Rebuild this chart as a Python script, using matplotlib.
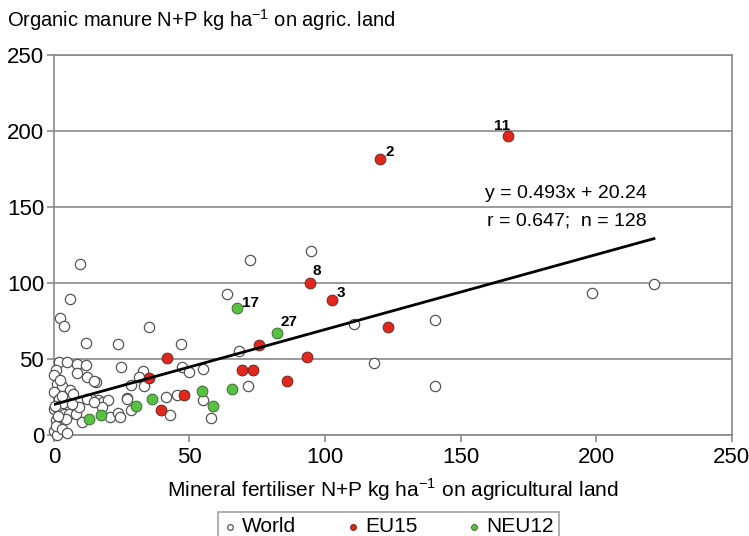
import matplotlib.pyplot as plt
import numpy as np

plt.rcParams['font.family'] = ['Liberation Sans', 'DejaVu Sans']

# World countries (white circles)
world_x = [9.8, 72.2, 94.9, 64.0, 6.1, 2.3, 3.6, 35.0, 11.8, 23.6, 47.0, 110.5, 118.0,
           140.6, 140.5, 198.5, 221.3, 68.1, 55.0, 71.7, 55.0, 58.0,
           24.8, 32.7, 31.4, 33.1, 28.6, 15.7, 47.4, 49.7, 27.1, 16.3, 18.2, 20.0,
           13.6, 17.6, 20.6, 23.7, 24.3, 28.6, 41.5, 45.5, 42.7, 26.8,
           1.8, 4.7, 8.6, 11.7, 0.6, 8.6, 12.3, 14.7, 0.2, 1.2, 3.1, 0.1, 1.8,
           0.1, 1.8, 3.7, 5.5, 8.0, 9.2, 12.3, 0.6, 4.3, 0.1, 1.2, 0.6, 3.1,
           10.4, 14.7, 2.2, 5.9, 7.1, 3.4, 1.6, 6.5, 2.8, 0.4, 4.7]
world_y = [112.5, 115.0, 121.0, 92.6, 89.3, 77.4, 71.9, 71.3, 61.0, 60.3, 59.9, 73.0, 47.8,
           75.7, 32.2, 93.6, 99.3, 55.7, 43.6, 32.2, 23.5, 11.4,
           44.9, 42.3, 38.4, 32.2, 32.9, 35.0, 44.7, 41.9, 24.8, 23.0, 21.9, 23.0,
           23.9, 18.6, 12.0, 14.3, 12.0, 16.9, 25.2, 26.3, 13.2, 24.1,
           48.0, 48.5, 46.9, 45.9, 42.6, 41.0, 38.2, 36.0, 39.3, 33.8, 32.7, 28.3, 23.9,
           17.3, 16.2, 14.0, 14.0, 14.0, 18.4, 23.9, 9.7, 10.7, 3.1, 0.3, 6.4, 4.1,
           8.6, 21.7, 36.5, 30.0, 27.0, 21.0, 12.5, 20.5, 26.0, 19.5, 1.5]

# EU15 (red)
eu_x = [167.5, 120.4, 94.3, 102.4, 123.3, 93.2, 75.8, 73.6, 69.2, 85.8, 41.6, 35.0, 48.0, 39.5]
eu_y = [196.7, 182.0, 100.0, 88.8, 71.0, 51.3, 59.2, 42.8, 42.8, 35.5, 50.7, 37.5, 26.3, 16.9]

# NEU12 (green)
neu_x = [67.4, 82.1, 12.9, 17.4, 30.2, 36.2, 54.7, 58.5, 65.7]
neu_y = [83.5, 67.0, 10.7, 13.4, 19.3, 24.1, 29.4, 19.3, 30.5]

# labelled countries: (label, x, y, dx, dy, ha)
labels = [("11", 167.5, 196.7, -4, 2, "center"),
          ("2", 120.4, 182.0, 4, 0, "left"),
          ("8", 94.3, 100.0, 2, 4, "left"),
          ("3", 102.4, 88.8, 4, 0, "left"),
          ("17", 67.4, 83.5, 4, -1, "left"),
          ("27", 82.1, 67.0, 3, 3, "left")]

slope = 0.493
intercept = 20.24

fig = plt.figure(figsize=(7.49, 5.36), dpi=100)
ax = fig.add_axes([0.072, 0.188, 0.905, 0.709])

gray = "#8a8a8a"
ax.set_xlim(0, 250)
ax.set_ylim(0, 250)
ax.set_xticks([0, 50, 100, 150, 200, 250])
ax.set_yticks([0, 50, 100, 150, 200, 250])
ax.yaxis.grid(True, color=gray, lw=1.2)
ax.set_axisbelow(True)
for s in ax.spines.values():
    s.set_color(gray)
    s.set_linewidth(1.2)
ax.tick_params(colors=gray, labelcolor="black", labelsize=16, length=5, width=1.2)
ax.tick_params(axis="y", pad=2)

ax.scatter(world_x, world_y, s=55, facecolor="white", edgecolor="#555555",
           linewidth=0.9, zorder=3, label="World", clip_on=False)
ax.scatter(eu_x, eu_y, s=60, facecolor="#e3261e", edgecolor="#6a2a20",
           linewidth=0.7, zorder=4, label="EU15", clip_on=False)
ax.scatter(neu_x, neu_y, s=60, facecolor="#58c043", edgecolor="#3d6b33",
           linewidth=0.7, zorder=4, label="NEU12", clip_on=False)

all_x = np.array(world_x + eu_x + neu_x)
xx = np.array([0, all_x.max()])
ax.plot(xx, slope * xx + intercept, color="black", lw=2, zorder=5)

for lab, x, y, dx, dy, ha in labels:
    ax.annotate(lab, (x, y), xytext=(dx, dy), textcoords="offset points",
                ha=ha, va="bottom", fontsize=11, fontweight="bold", zorder=6)

ax.text(189, 159, "y = 0.493x + 20.24", ha="center", va="center", fontsize=14)
ax.text(189, 141, "r = 0.647;  n = 128", ha="center", va="center", fontsize=14)

ax.set_xlabel("Mineral fertiliser N+P kg ha$^{\\mathregular{-1}}$ on agricultural land",
              fontsize=15, labelpad=6)
fig.text(0.01, 0.962, "Organic manure N+P kg ha$^{\\mathregular{-1}}$ on agric. land",
         fontsize=14.5, ha="left", va="center")

leg = fig.legend(loc="lower center", bbox_to_anchor=(0.519, -0.03), ncol=3,
                 fontsize=15, frameon=True, fancybox=False, edgecolor=gray,
                 markerscale=0.55, handlelength=0.6, handletextpad=0.3,
                 columnspacing=2.4, borderpad=0.25)
leg.get_frame().set_linewidth(1.2)

fig.savefig("out.png", dpi=100)
